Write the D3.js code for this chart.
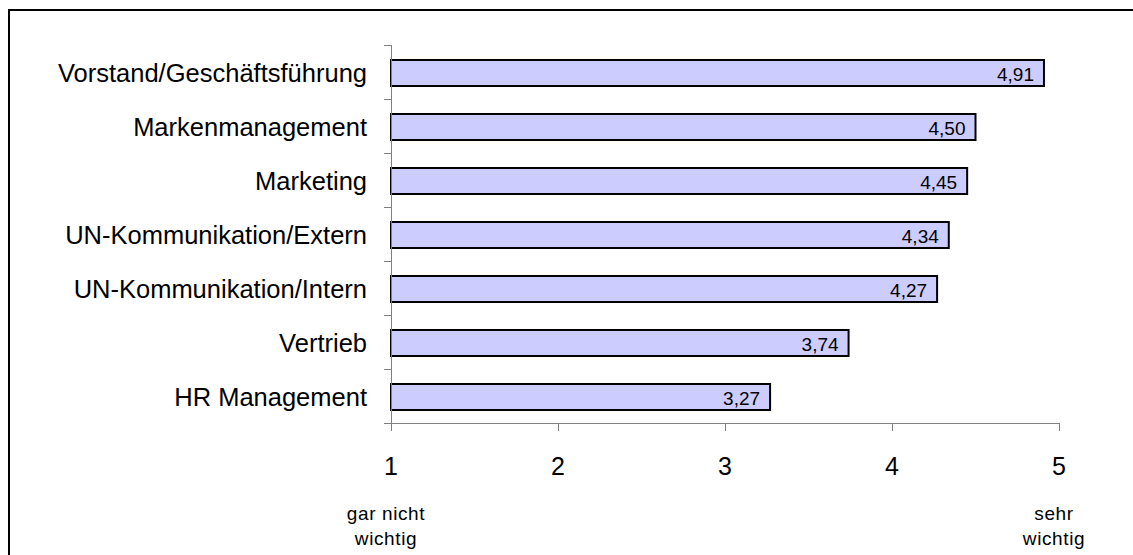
<!DOCTYPE html>
<html>
<head>
<meta charset="utf-8">
<script src="https://cdn.jsdelivr.net/npm/d3@7"></script>
<style>
  body { margin: 0; background: #fff; }
  svg { display: block; font-family: "Liberation Sans", Arial, sans-serif; }
</style>
</head>
<body>
<svg id="chart"></svg>
<script>
var categories = ['Vorstand/Geschäftsführung', 'Markenmanagement', 'Marketing',
    'UN-Kommunikation/Extern', 'UN-Kommunikation/Intern', 'Vertrieb', 'HR Management'];
var values = [4.91, 4.50, 4.45, 4.34, 4.27, 3.74, 3.27];
var xTicks = [1, 2, 3, 4, 5];
var endLabels = [{v: 1, lines: ['gar nicht', 'wichtig']}, {v: 5, lines: ['sehr', 'wichtig']}];

(function () {
    var width = 1133, height = 555;
    var svg = d3.select('#chart').attr('width', width).attr('height', height);

    // outer frame (runs off the right and bottom edge)
    svg.append('rect').attr('x', 9).attr('y', 10).attr('width', 1140).attr('height', 560)
        .attr('fill', 'none').attr('stroke', '#000').attr('stroke-width', 2);

    var left = 391, right = 1059, top = 45, bottom = 423;
    var x = d3.scaleLinear().domain([1, 5]).range([left, right]);
    var y = d3.scaleBand().domain(categories).range([top, bottom]);
    var barH = 26;

    // bars
    var g = svg.selectAll('.bar').data(values).enter().append('g').attr('class', 'bar');
    g.append('rect')
        .attr('x', x(1))
        .attr('y', (d, i) => y(categories[i]) + y.bandwidth() / 2 - barH / 2 + 1)
        .attr('width', d => x(d) - x(1))
        .attr('height', barH)
        .attr('fill', '#ccccff').attr('stroke', '#000').attr('stroke-width', 2);
    g.append('text')
        .attr('x', d => x(d) - 10)
        .attr('y', (d, i) => y(categories[i]) + y.bandwidth() / 2 + 9)
        .attr('text-anchor', 'end').attr('font-size', 19).attr('fill', '#000')
        .text(d => d.toFixed(2).replace('.', ','));

    // y axis: ticks between categories
    var yAxis = svg.append('g').attr('stroke', '#808080').attr('stroke-width', 1);
    yAxis.append('line').attr('x1', left + 0.5).attr('x2', left + 0.5).attr('y1', top).attr('y2', bottom);
    var yTickPos = categories.map(c => y(c)).concat([bottom]);
    yAxis.selectAll('.yt').data(yTickPos).enter().append('line')
        .attr('x1', left - 7).attr('x2', left + 0.5)
        .attr('y1', d => Math.round(d) + 0.5).attr('y2', d => Math.round(d) + 0.5);

    // category labels
    svg.selectAll('.cat').data(categories).enter().append('text')
        .attr('x', 367)
        .attr('y', d => y(d) + y.bandwidth() / 2 + 10)
        .attr('text-anchor', 'end').attr('font-size', 25.5).attr('fill', '#000')
        .text(d => d);

    // x axis
    var xAxis = svg.append('g').attr('stroke', '#808080').attr('stroke-width', 1);
    xAxis.append('line').attr('x1', left).attr('x2', right).attr('y1', bottom + 0.5).attr('y2', bottom + 0.5);
    xAxis.selectAll('.xt').data(xTicks).enter().append('line')
        .attr('x1', d => Math.round(x(d)) + 0.5).attr('x2', d => Math.round(x(d)) + 0.5)
        .attr('y1', bottom).attr('y2', bottom + 8);

    svg.selectAll('.xl').data(xTicks).enter().append('text')
        .attr('x', d => x(d))
        .attr('y', 475)
        .attr('text-anchor', 'middle').attr('font-size', 25).attr('fill', '#000')
        .text(d => d);

    // scale end descriptions
    endLabels.forEach(function (e) {
        e.lines.forEach(function (line, j) {
            svg.append('text')
                .attr('x', x(e.v) - 5)
                .attr('y', 520 + j * 25)
                .attr('text-anchor', 'middle').attr('font-size', 19).attr('letter-spacing', 0.6)
                .attr('fill', '#000')
                .text(line);
        });
    });
})();
</script>
</body>
</html>
